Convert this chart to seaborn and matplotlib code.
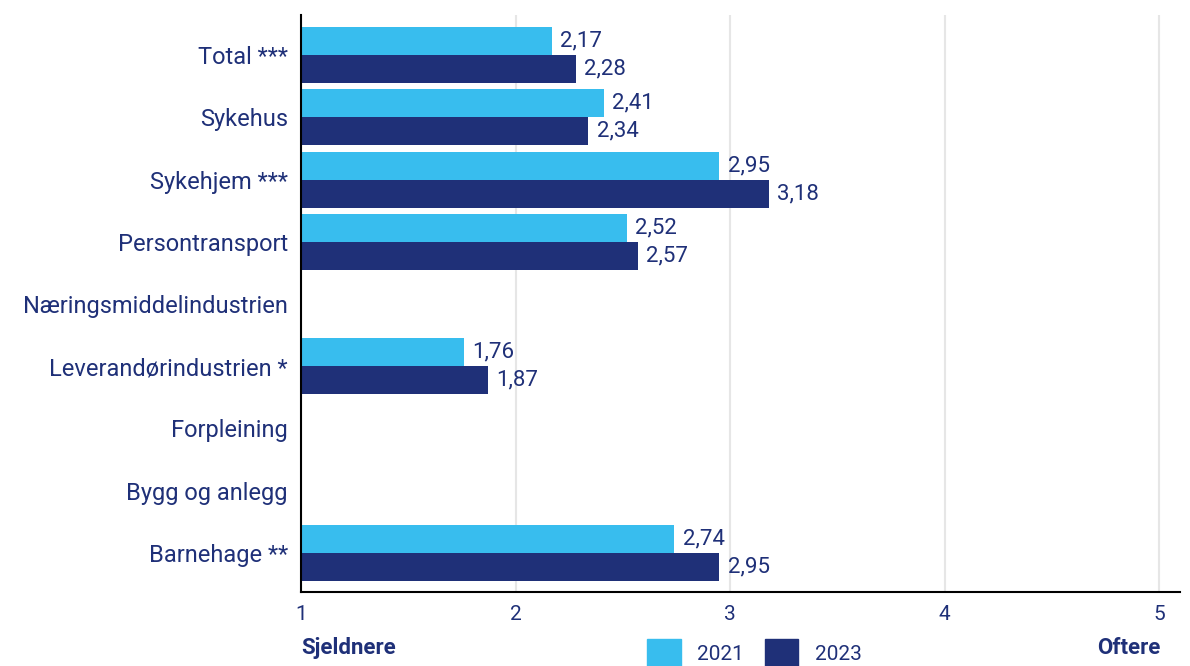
import numpy as np
import pandas as pd
import seaborn as sns
import matplotlib.pyplot as plt
from matplotlib.patches import Patch

sns.set_style("white")
plt.rcParams['font.family'] = ['Roboto', 'DejaVu Sans']

categories = ['Total ***', 'Sykehus', 'Sykehjem ***', 'Persontransport',
              'Næringsmiddelindustrien', 'Leverandørindustrien *', 'Forpleining',
              'Bygg og anlegg', 'Barnehage **']
v2021 = [2.17, 2.41, 2.95, 2.52, np.nan, 1.76, np.nan, np.nan, 2.74]
v2023 = [2.28, 2.34, 3.18, 2.57, np.nan, 1.87, np.nan, np.nan, 2.95]
years = ['2021', '2023']

light = '#38BDEE'
dark = '#1F3078'
txt = '#1F3078'

df = pd.DataFrame({
    'kategori': categories * 2,
    'verdi': v2021 + v2023,
    'aar': [years[0]] * len(categories) + [years[1]] * len(categories),
})

fig = plt.figure(figsize=(11.9, 6.66), dpi=100)
ax = fig.add_axes([0.253, 0.111, 0.739, 0.866])

sns.barplot(data=df, y='kategori', x='verdi', hue='aar', order=categories,
            hue_order=years, palette=[light, dark], orient='h', width=0.9,
            saturation=1, linewidth=0, ax=ax, legend=False)

for cont in ax.containers:
    labs = ['' if np.isnan(w) else f"{w:.2f}".replace('.', ',') for w in cont.datavalues]
    ax.bar_label(cont, labels=labs, padding=6, fontsize=16, color=txt)

ax.set_xlim(1, 5.1)
ax.set_ylim(8.63, -0.64)
ax.set_xticks([1, 2, 3, 4, 5])
ax.set_xticklabels(['1', '2', '3', '4', '5'])
ax.set_xlabel('')
ax.set_ylabel('')
ax.grid(axis='x', color='#e6e6e6', linewidth=1.5)
ax.set_axisbelow(True)
for s in ['top', 'right']:
    ax.spines[s].set_visible(False)
for s in ['left', 'bottom']:
    ax.spines[s].set_color('black')
    ax.spines[s].set_linewidth(1.5)
ax.tick_params(axis='both', which='both', length=6, width=1.5, color='black',
               labelcolor=txt, labelsize=15)
ax.tick_params(axis='y', labelsize=17)

fig.text(0.253, 0.027, 'Sjeldnere', fontsize=16, fontweight='bold', color=txt,
         ha='left', va='center')
fig.text(0.975, 0.027, 'Oftere', fontsize=16, fontweight='bold', color=txt,
         ha='right', va='center')

handles = [Patch(color=light, label=years[0]), Patch(color=dark, label=years[1])]
fig.legend(handles=handles, loc='lower center', bbox_to_anchor=(0.634, -0.03),
           ncol=2, frameon=False, fontsize=15, labelcolor=txt,
           handlelength=1.6, handleheight=1.7, columnspacing=1.0, handletextpad=0.8)

fig.savefig('out.png', dpi=100)
